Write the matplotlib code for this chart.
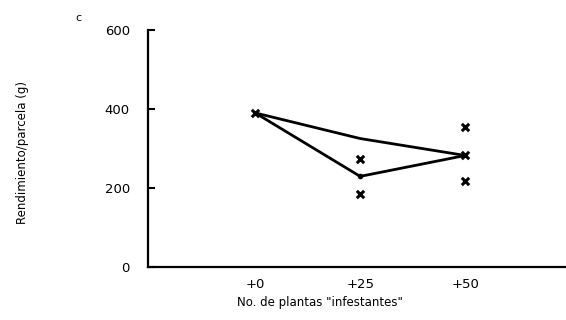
import matplotlib
matplotlib.use('Agg')
import matplotlib.pyplot as plt

# Data
tick_pos = [0, 25, 50]
tick_labels = ['+0', '+25', '+50']

upper_x = [0, 25, 50]
upper_y = [390, 325, 282]
lower_x = [0, 25, 50]
lower_y = [390, 229, 282]

obs_x = [0, 25, 25, 50, 50, 50]
obs_y = [390, 274, 185, 355, 218, 282]

plt.rcParams['font.family'] = ['DejaVu Sans']

fig = plt.figure(figsize=(5.66, 3.2), dpi=100)
ax = fig.add_axes([0.2615, 0.1666, 0.7385, 0.7394])

ax.plot(upper_x, upper_y, color='black', lw=2)
ax.plot(lower_x, lower_y, color='black', lw=2)
ax.plot([25], [229], 'o', color='black', ms=3)
ax.scatter(obs_x, obs_y, marker='x', s=28, color='black', linewidths=2.2, zorder=3)

ax.set_xlim(-25.5, 74)
ax.set_ylim(0, 600)
ax.set_yticks([0, 200, 400, 600])
ax.set_yticklabels(['0', '200', '400', '600'])
ax.set_xticks(tick_pos)
ax.set_xticklabels(tick_labels)

for s in ['top', 'right']:
    ax.spines[s].set_visible(False)
for s in ['left', 'bottom']:
    ax.spines[s].set_linewidth(1.6)

ax.tick_params(axis='y', direction='in', length=5, width=1.5, pad=13, labelsize=9.5)
ax.tick_params(axis='x', length=0, pad=8, labelsize=9.5)

fig.text(0.565, 0.056, 'No. de plantas "infestantes"', fontsize=8.5,
         ha='center', va='center')
fig.text(0.04, 0.525, 'Rendimiento/parcela (g)', rotation=90, fontsize=8.5,
         ha='center', va='center')
fig.text(0.138, 0.945, 'c', fontsize=8, ha='center', va='center')

fig.savefig('out.png', dpi=100, facecolor='white')
